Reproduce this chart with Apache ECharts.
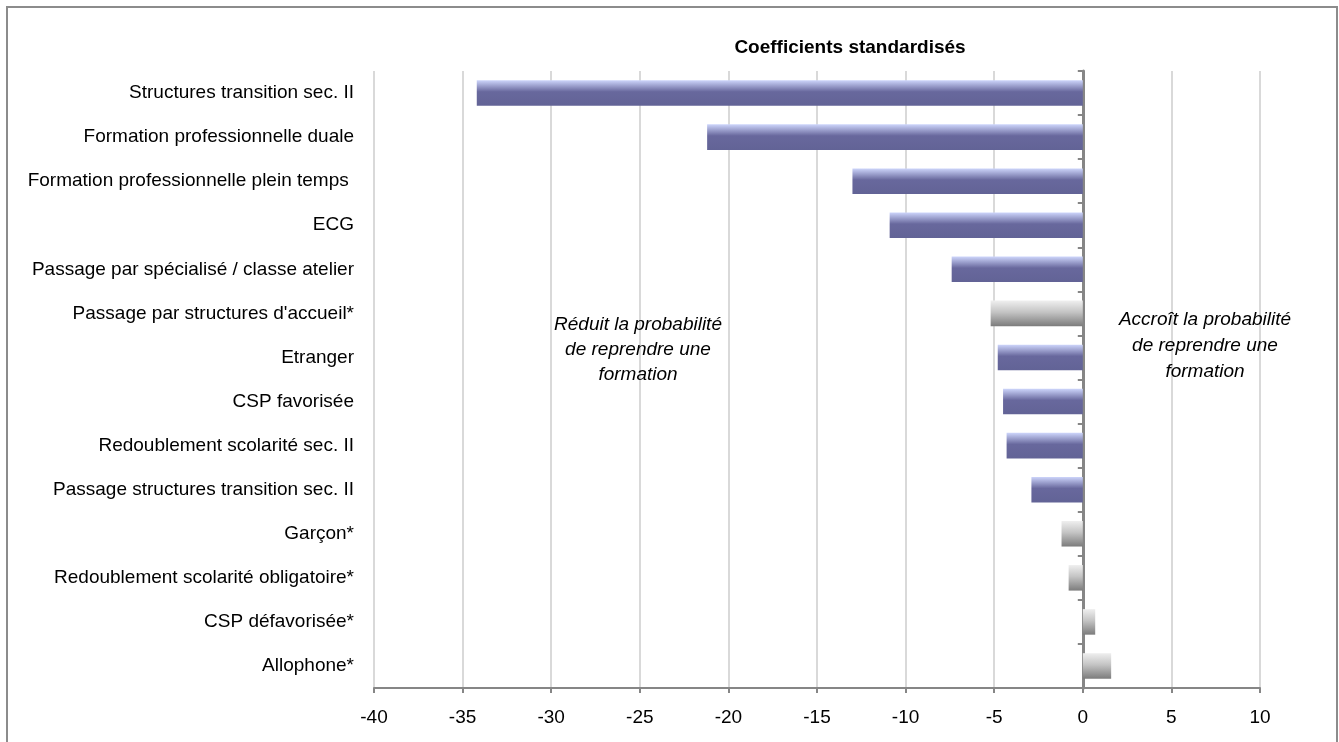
<!DOCTYPE html>
<html>
<head>
<meta charset="utf-8">
<script src="https://cdn.jsdelivr.net/npm/echarts@6/dist/echarts.min.js"></script>
<style>
html,body{margin:0;padding:0;background:#fff;}
#c{width:1339px;height:742px;}
</style>
</head>
<body>
<div id="c"></div>
<script>
// ---- data ----
const categories = [
  "Structures transition sec. II",
  "Formation professionnelle duale",
  "Formation professionnelle plein temps ",
  "ECG",
  "Passage par spécialisé / classe atelier",
  "Passage par structures d'accueil*",
  "Etranger",
  "CSP favorisée",
  "Redoublement scolarité sec. II",
  "Passage structures transition sec. II",
  "Garçon*",
  "Redoublement scolarité obligatoire*",
  "CSP défavorisée*",
  "Allophone*"
];
const coefficients = [-34.2, -21.2, -13.0, -10.9, -7.4, -5.2, -4.8, -4.5, -4.3, -2.9, -1.2, -0.8, 0.7, 1.6];
const xTicks = { min: -40, max: 10, interval: 5 };
const titleText = "Coefficients standardisés";
const noteLeft = "Réduit la probabilité\nde reprendre une\nformation";
const noteRight = "Accroît la probabilité\nde reprendre une\nformation";

// ---- styles ----
const FONT = "'Liberation Sans', Arial, sans-serif";
const FS = 19;
const blueGrad = new echarts.graphic.LinearGradient(0, 0, 0, 1, [
  { offset: 0, color: '#cdd5fb' },
  { offset: 0.45, color: '#68689d' },
  { offset: 1, color: '#626396' }
]);
const grayGrad = new echarts.graphic.LinearGradient(0, 0, 0, 1, [
  { offset: 0, color: '#efefef' },
  { offset: 0.45, color: '#c4c4c4' },
  { offset: 1, color: '#7c7c7c' }
]);

const seriesData = coefficients.map((v, i) => ({
  value: v,
  itemStyle: { color: categories[i].trim().endsWith('*') ? grayGrad : blueGrad }
}));

const chart = echarts.init(document.getElementById('c'), null, { renderer: 'canvas' });
chart.setOption({
  animation: false,
  backgroundColor: '#ffffff',
  textStyle: { fontFamily: FONT },
  grid: { left: 374, right: 79, top: 71, bottom: 54, containLabel: false, outerBoundsMode: 'none' },
  title: {
    text: titleText,
    left: 845, top: 33, textAlign: 'center',
    textStyle: { fontFamily: FONT, fontSize: FS, fontWeight: 'bold', color: '#000' }
  },
  xAxis: {
    type: 'value',
    min: xTicks.min, max: xTicks.max, interval: xTicks.interval,
    axisLine: { show: true, onZero: false, lineStyle: { color: '#868686', width: 2 } },
    axisTick: { show: true, length: 5, lineStyle: { color: '#868686', width: 2 } },
    splitLine: { show: true, lineStyle: { color: '#d9d9d9', width: 2 } },
    axisLabel: { fontFamily: FONT, fontSize: FS, color: '#000', margin: 20 }
  },
  yAxis: [
    {
      type: 'category', data: categories, inverse: true, position: 'left',
      axisLine: { show: false }, axisTick: { show: false },
      axisLabel: { fontFamily: FONT, fontSize: FS, color: '#000', margin: 20 }
    },
    {
      type: 'category', data: categories, inverse: true, position: 'left',
      axisLine: { show: true, onZero: true, onZeroAxisIndex: 0, lineStyle: { color: '#868686', width: 3 } },
      axisTick: { show: true, length: 5, lineStyle: { color: '#868686', width: 2 } },
      axisLabel: { show: false },
      splitLine: { show: false }
    }
  ],
  series: [{
    type: 'bar',
    yAxisIndex: 0,
    data: seriesData,
    barCategoryGap: '42%',
    z: 1
  }],
  graphic: [
    {
      type: 'rect', silent: true, z: -1,
      shape: { x: 7, y: 7, width: 1330, height: 780 },
      style: { fill: 'none', stroke: '#8c8c8c', lineWidth: 2 }
    },
    {
      type: 'text', silent: true, z: 10,
      x: 638, y: 350,
      style: { text: noteLeft, fontFamily: FONT, fontSize: FS, fontStyle: 'italic', fill: '#000',
               align: 'center', verticalAlign: 'middle', lineHeight: 25 }
    },
    {
      type: 'text', silent: true, z: 10,
      x: 1205, y: 346,
      style: { text: noteRight, fontFamily: FONT, fontSize: FS, fontStyle: 'italic', fill: '#000',
               align: 'center', verticalAlign: 'middle', lineHeight: 26 }
    }
  ]
});
</script>
</body>
</html>
